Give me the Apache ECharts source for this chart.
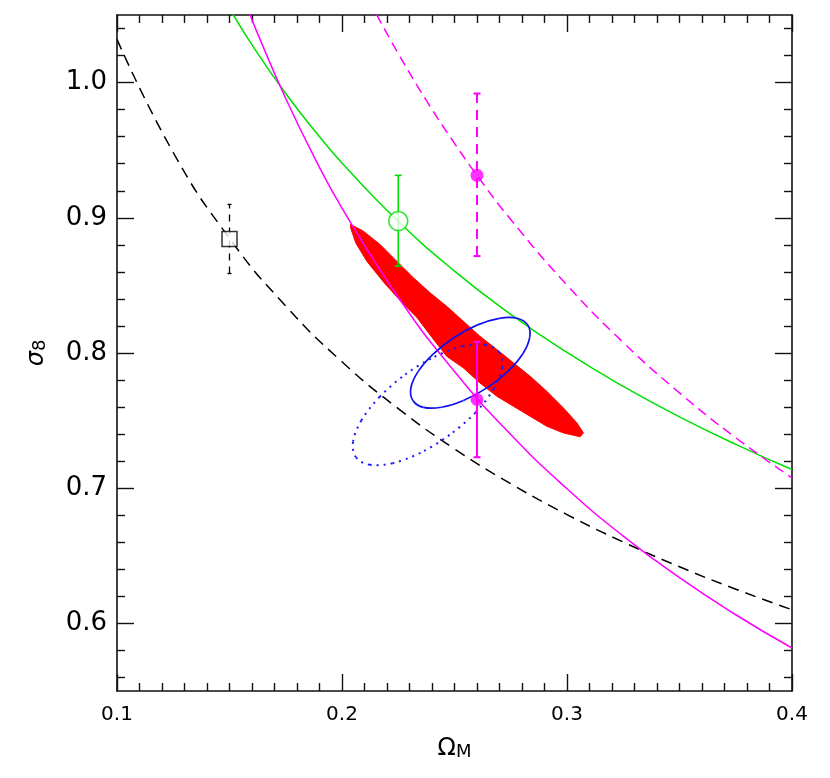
<!DOCTYPE html>
<html>
<head>
<meta charset="utf-8">
<script src="https://cdn.jsdelivr.net/npm/echarts@6/dist/echarts.min.js"></script>
<style>html,body{margin:0;padding:0;background:#fff}#c{width:830px;height:778px}</style>
</head>
<body>
<div id="c"></div>
<script>
// ---- data ----
const xMajorTicks = [0.1, 0.2, 0.3, 0.4];
const yMajorTicks = [0.6, 0.7, 0.8, 0.9, 1.0];
const yMinorTicks = [0.56, 0.58, 0.62, 0.64, 0.66, 0.68, 0.72, 0.74, 0.76, 0.78, 0.82, 0.84, 0.86, 0.88, 0.92, 0.94, 0.96, 0.98, 1.02, 1.04];

const blackDashedCurve = [[0.1,1.032],[0.125,0.9483],[0.15,0.8848],[0.175,0.8347],[0.2,0.7935],[0.225,0.7589],[0.25,0.7291],[0.275,0.7033],[0.3,0.6805],[0.325,0.6602],[0.35,0.6419],[0.375,0.6253],[0.4,0.6101]];
const greenCurve = [[0.1515,1.0505],[0.1625,1.0216],[0.175,0.9919],[0.1875,0.9651],[0.2,0.9406],[0.225,0.8974],[0.25,0.8606],[0.275,0.8286],[0.3,0.8004],[0.325,0.7753],[0.35,0.7528],[0.375,0.7324],[0.4,0.7138]];
const magentaCurve = [[0.159,1.0508],[0.1625,1.0362],[0.175,0.9882],[0.1875,0.9454],[0.2,0.9072],[0.225,0.8412],[0.25,0.7863],[0.275,0.7397],[0.3,0.6996],[0.325,0.6646],[0.35,0.6338],[0.375,0.6064],[0.4,0.5818]];
const magentaDashedCurve = [[0.2154,1.0503],[0.225,1.0215],[0.2375,0.9868],[0.25,0.9551],[0.26,0.9314],[0.275,0.8987],[0.3,0.8502],[0.325,0.8078],[0.35,0.7705],[0.375,0.7373],[0.4,0.7076]];

const redRegionX = [0.2038,0.2094,0.2169,0.2243,0.2317,0.2391,0.2465,0.2539,0.2613,0.2688,0.2762,0.2836,0.2910,0.2984,0.3044,0.3073,
                    0.3058,0.2984,0.2910,0.2836,0.2762,0.2688,0.2613,0.2539,0.2465,0.2400,0.2333,0.2266,0.2186,0.2111,0.2062,0.2038];
const redRegionY = [0.8951,0.8902,0.8803,0.8679,0.8557,0.8446,0.8346,0.8235,0.8124,0.8026,0.7927,0.7828,0.7717,0.7594,0.7483,0.7409,
                    0.7380,0.7409,0.7458,0.7532,0.7606,0.7680,0.7779,0.7890,0.7976,0.8115,0.8263,0.8374,0.8522,0.8677,0.8811,0.8927];

const blueSolidX = [0.2826,0.2834,0.2803,0.2736,0.2644,0.2540,0.2442,0.2362,0.2315,0.2306,0.2338,0.2405,0.2497,0.2600,0.2699,0.2778];
const blueSolidY = [0.8206,0.8114,0.7993,0.7863,0.7742,0.7649,0.7599,0.7598,0.7649,0.7741,0.7862,0.7992,0.8113,0.8206,0.8256,0.8257];
const blueDottedX = [0.2698,0.2711,0.2674,0.2593,0.2478,0.2349,0.2225,0.2124,0.2062,0.2049,0.2086,0.2167,0.2281,0.2411,0.2535,0.2636];
const blueDottedY = [0.8005,0.7890,0.7734,0.7559,0.7394,0.7262,0.7185,0.7173,0.7229,0.7344,0.7501,0.7675,0.7841,0.7972,0.8050,0.8061];

const squarePoint = [0.15, 0.8844];     const squareErr = [0.8588, 0.9099];
const greenPoint = [0.225, 0.8976];     const greenErr = [0.8642, 0.9314];
const magentaLowPoint = [0.26, 0.7656]; const magentaLowErr = [0.7229, 0.8083];
const magentaHighPoint = [0.26, 0.9314];const magentaHighErr = [0.8717, 0.9919];

// ---- helpers ----
function polygonSeries(xs, ys, style, z) {
  return {
    type: 'custom', coordinateSystem: 'cartesian2d', xAxisIndex: 0, yAxisIndex: 0, z: z, silent: true,
    data: [[xs[0], ys[0]]],
    renderItem: function (params, api) {
      const pts = xs.map(function (x, i) { return api.coord([x, ys[i]]); });
      return { type: 'polygon', shape: { points: pts }, style: style };
    }
  };
}
// closed smooth contour through the read points (Catmull-Rom segments drawn as Bezier curves)
function closedContourSeries(xs, ys, style, z) {
  return {
    type: 'custom', coordinateSystem: 'cartesian2d', xAxisIndex: 0, yAxisIndex: 0, z: z, silent: true,
    data: [[xs[0], ys[0]]],
    renderItem: function (params, api) {
      const p = xs.map(function (x, i) { return api.coord([x, ys[i]]); });
      const n = p.length, children = [];
      for (let i = 0; i < n; i++) {
        const p0 = p[(i - 1 + n) % n], p1 = p[i], p2 = p[(i + 1) % n], p3 = p[(i + 2) % n];
        children.push({ type: 'bezierCurve', shape: {
          x1: p1[0], y1: p1[1], x2: p2[0], y2: p2[1],
          cpx1: p1[0] + (p2[0] - p0[0]) / 6, cpy1: p1[1] + (p2[1] - p0[1]) / 6,
          cpx2: p2[0] - (p3[0] - p1[0]) / 6, cpy2: p2[1] - (p3[1] - p1[1]) / 6 }, style: style });
      }
      return { type: 'group', children: children };
    }
  };
}
function errorBarSeries(pt, err, color, width, dash, cap) {
  return {
    type: 'custom', coordinateSystem: 'cartesian2d', xAxisIndex: 0, yAxisIndex: 0, z: 5, silent: true,
    data: [[pt[0], err[0], err[1]]],
    renderItem: function (params, api) {
      const x = api.value(0);
      const p1 = api.coord([x, api.value(1)]);
      const p2 = api.coord([x, api.value(2)]);
      const st = { stroke: color, lineWidth: width, lineDash: dash, fill: null };
      const cs = { stroke: color, lineWidth: width, fill: null };
      return { type: 'group', children: [
        { type: 'line', shape: { x1: p1[0], y1: p1[1], x2: p2[0], y2: p2[1] }, style: st },
        { type: 'line', shape: { x1: p1[0] - cap, y1: p1[1], x2: p1[0] + cap, y2: p1[1] }, style: cs },
        { type: 'line', shape: { x1: p2[0] - cap, y1: p2[1], x2: p2[0] + cap, y2: p2[1] }, style: cs }
      ]};
    }
  };
}
function curve(data, color, width, type, z) {
  return { type: 'line', data: data, xAxisIndex: 0, yAxisIndex: 0, showSymbol: false, symbol: 'none', smooth: true,
           clip: true, silent: true, z: z,
           lineStyle: { color: color, width: width, type: type } };
}

const font = 'DejaVu Sans';
const lineCol = '#111';
const baseX = { type: 'value', min: 0.1, max: 0.4, interval: 0.1,
  splitLine: { show: false }, axisLine: { show: true, onZero: false, lineStyle: { color: lineCol, width: 1.6 } } };
const baseY = { type: 'value', min: 0.55, max: 1.05,
  splitLine: { show: false }, axisLine: { show: true, onZero: false, lineStyle: { color: lineCol, width: 1.6 } } };

const chart = echarts.init(document.getElementById('c'), null, { renderer: 'canvas' });
chart.setOption({
  animation: false,
  backgroundColor: '#fff',
  grid: { left: 117, right: 38, top: 15, bottom: 87, containLabel: false, outerBoundsMode: 'none' },
  xAxis: [
    Object.assign({}, baseX, {
      position: 'bottom',
      axisTick: { show: true, inside: true, length: 17, lineStyle: { color: lineCol, width: 1.4 } },
      minorTick: { show: true, splitNumber: 10, length: 8, lineStyle: { color: lineCol, width: 1.4 } },
      axisLabel: { show: true, margin: 14, color: '#000', fontFamily: font, fontSize: 20,
                   formatter: function (v) { return v.toFixed(1); } },
      name: '{o|Ω}{s|M}', nameLocation: 'middle', nameGap: 40,
      nameTextStyle: { color: '#000', fontFamily: font, rich: {
        o: { fontSize: 24, fontFamily: font, color: '#000', verticalAlign: 'bottom', lineHeight: 30 },
        s: { fontSize: 18, fontFamily: font, color: '#000', verticalAlign: 'bottom', lineHeight: 22 } } }
    }),
    Object.assign({}, baseX, {
      position: 'top',
      axisTick: { show: true, inside: true, length: 17, lineStyle: { color: lineCol, width: 1.4 } },
      minorTick: { show: true, splitNumber: 10, length: 8, lineStyle: { color: lineCol, width: 1.4 } },
      axisLabel: { show: false }
    })
  ],
  yAxis: [
    Object.assign({}, baseY, {
      position: 'left',
      axisTick: { show: true, inside: true, length: 17, customValues: yMajorTicks, lineStyle: { color: lineCol, width: 1.4 } },
      axisLabel: { show: true, margin: 10, color: '#000', fontFamily: font, fontSize: 26, customValues: yMajorTicks,
                   formatter: function (v) { return Number(v).toFixed(1); } },
      name: '{g|σ}{n|8}', nameLocation: 'middle', nameGap: 68, nameRotate: 90,
      nameTextStyle: { color: '#000', fontFamily: font, rich: {
        g: { fontSize: 24, fontStyle: 'italic', fontFamily: font, color: '#000', verticalAlign: 'bottom', lineHeight: 30 },
        n: { fontSize: 18, fontFamily: font, color: '#000', verticalAlign: 'bottom', lineHeight: 22 } } }
    }),
    Object.assign({}, baseY, {
      position: 'left', axisLine: { show: false },
      axisTick: { show: true, inside: true, length: 8, customValues: yMinorTicks, lineStyle: { color: lineCol, width: 1.4 } },
      axisLabel: { show: false }
    }),
    Object.assign({}, baseY, {
      position: 'right',
      axisTick: { show: true, inside: true, length: 17, customValues: yMajorTicks, lineStyle: { color: lineCol, width: 1.4 } },
      axisLabel: { show: false }
    }),
    Object.assign({}, baseY, {
      position: 'right', axisLine: { show: false },
      axisTick: { show: true, inside: true, length: 8, customValues: yMinorTicks, lineStyle: { color: lineCol, width: 1.4 } },
      axisLabel: { show: false }
    })
  ],
  series: [
    polygonSeries(redRegionX, redRegionY, { fill: '#ff0000', stroke: '#ff0000', lineWidth: 1 }, 1),
    curve(blackDashedCurve, '#000', 1.5, [11, 7], 3),
    curve(greenCurve, '#00e000', 1.5, 'solid', 3),
    curve(magentaCurve, '#ff00ff', 1.5, 'solid', 3),
    curve(magentaDashedCurve, '#ff00ff', 1.5, [10, 6], 3),
    closedContourSeries(blueSolidX, blueSolidY, { fill: null, stroke: '#1010ee', lineWidth: 1.7 }, 4),
    closedContourSeries(blueDottedX, blueDottedY, { fill: null, stroke: '#1a1aff', lineWidth: 2, lineDash: [2, 5] }, 4),
    errorBarSeries(squarePoint, squareErr, '#000', 1.3, [7, 6], 2),
    errorBarSeries(greenPoint, greenErr, '#00e000', 1.6, null, 3.5),
    errorBarSeries(magentaLowPoint, magentaLowErr, '#ff00ff', 2, null, 3.5),
    errorBarSeries(magentaHighPoint, magentaHighErr, '#ff00ff', 2, [10, 7], 3.5),
    { type: 'scatter', xAxisIndex: 0, yAxisIndex: 0, z: 6, silent: true, data: [squarePoint], symbol: 'rect', symbolSize: 15,
      itemStyle: { color: '#fff', borderColor: '#000', borderWidth: 1.5 } },
    { type: 'scatter', xAxisIndex: 0, yAxisIndex: 0, z: 6, silent: true, data: [greenPoint], symbol: 'circle', symbolSize: 19,
      itemStyle: { color: '#fff', borderColor: '#00e000', borderWidth: 1.6 } },
    { type: 'scatter', xAxisIndex: 0, yAxisIndex: 0, z: 6, silent: true, data: [magentaLowPoint, magentaHighPoint], symbol: 'circle', symbolSize: 13,
      itemStyle: { color: '#ff00ff' } }
  ]
});
</script>
</body>
</html>
